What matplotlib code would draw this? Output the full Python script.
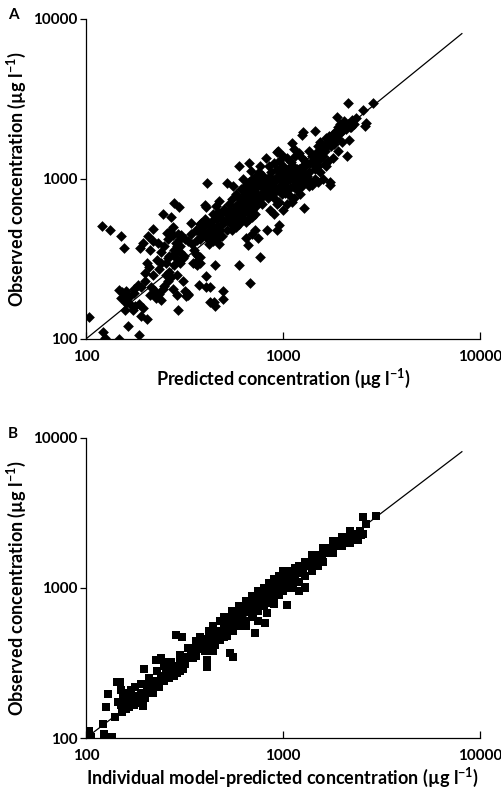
import matplotlib
matplotlib.use("Agg")
import matplotlib.pyplot as plt
import numpy as np

# === 字型設定 ===
plt.rcParams['font.family'] = ['Lato', 'DejaVu Sans']
plt.rcParams['font.weight'] = 'bold'
plt.rcParams['mathtext.fontset'] = 'custom'
plt.rcParams['mathtext.rm'] = 'Lato:bold'
plt.rcParams['mathtext.default'] = 'rm'

# === 資料 (A: population predicted vs observed) ===
pred_a = [104, 121, 133, 151, 156, 122, 125, 147, 163, 186, 203, 174, 157, 194, 147, 152, 157, 150, 157, 166,
          176, 183, 168, 178, 160, 185, 188, 195, 200, 190,
          206, 218, 245, 270, 281, 298, 341, 259, 286, 210, 236, 265, 215, 225, 235, 245, 228, 240, 222, 212,
          250, 260, 270, 255, 275, 290, 292, 300, 310, 285, 264, 280, 290, 300, 275, 262, 232, 240, 220, 212,
          230, 255, 280, 205, 248, 268, 278, 292, 305, 300, 315, 322, 310, 318, 330,
          330, 345, 355, 362, 370, 380, 365, 350, 376, 385, 395, 403, 410, 384, 407, 443, 386, 364, 380, 395,
          410, 420, 430, 440, 450, 460, 470, 480, 490, 500, 406, 406, 424, 454, 494, 494, 426, 376, 330, 289,
          379, 357, 452, 448, 420, 440, 465, 475, 490, 476, 455, 470, 480,
          518, 598, 675, 762, 817, 946, 520, 540, 560, 575, 590, 600, 620, 640, 660, 680, 700, 720, 740, 760,
          780, 520, 545, 560, 580, 600, 620, 640, 660, 680, 700, 720, 740, 760, 780, 800, 550, 575, 600, 625,
          650, 675, 700, 725, 600, 620, 650, 680, 710, 580, 610, 640, 670, 700, 730, 760, 790, 667, 750, 826,
          598, 680, 764, 700, 650, 720, 560, 630, 690,
          800, 820, 840, 860, 880, 900, 920, 940, 960, 980, 1000, 1020, 1040, 1060, 1080, 1100, 1120, 1140, 1160, 1180,
          1200, 1250, 1300, 1350, 1400, 1450, 1500, 850, 870, 900, 930, 960, 990, 1020, 1050, 1080, 1110, 1140, 1180, 1220,
          1279, 936, 952, 900, 860, 1000, 1050, 850, 900, 950, 1000, 1050, 1100, 1142, 1150, 1200, 1250, 1300, 1350, 1400,
          1253, 1300, 1200, 1100, 1000, 950, 1733, 1740, 1600, 1550, 1500, 1450, 1400, 1350, 1300,
          1452, 1500, 1550, 1600, 1650, 1700, 1750, 1800, 1850, 1871, 1900, 1950, 2000, 2050, 2104, 2146, 2172, 2187, 2228, 2250,
          2300, 2557, 2630, 2600, 2875, 1600, 1700, 1800, 1900, 2000, 1650, 1500, 1550, 1268, 1106, 928, 1635,
          530, 550, 570, 590, 610, 630, 650, 670, 690, 710, 730, 750, 770, 790, 810, 830, 850, 870, 890, 910,
          930, 950, 970, 990, 1010, 1030, 1060, 1090, 1120, 1150, 1180, 1210, 1240, 1270, 1320, 1370, 1420, 1480, 1530, 1580,
          1630, 1680, 1720, 1780, 1820, 1880, 1950, 2020, 2080, 2150, 2250, 2350, 460, 480, 500, 420, 440, 400, 380, 360,
          340, 320, 300, 280, 260, 240, 220, 200, 190, 175, 160, 430, 520, 540, 570, 610, 660, 730, 780, 840,
          900, 960, 1020, 1080, 1150, 1250, 1350]
obs_a = [138, 510, 480, 442, 370, 110, 101, 100, 120, 106, 133, 152, 152, 155, 202, 196, 190, 180, 175, 184,
         205, 218, 165, 160, 168, 165, 370, 395, 258, 140,
         437, 484, 604, 578, 710, 670, 530, 458, 396, 283, 273, 263, 210, 200, 190, 205, 180, 175, 195, 188,
         215, 230, 245, 250, 205, 250, 152, 300, 320, 320, 330, 360, 380, 420, 445, 420, 395, 350, 410, 360,
         310, 300, 290, 300, 380, 470, 500, 455, 445, 350, 330, 186, 230, 200, 190,
         410, 390, 360, 340, 330, 300, 290, 300, 469, 480, 500, 688, 939, 533, 671, 555, 480, 416, 420, 450,
         430, 470, 440, 490, 470, 510, 450, 480, 520, 540, 248, 210, 171, 161, 177, 200, 212, 218, 188, 188,
         327, 297, 290, 171, 390, 410, 420, 390, 440, 732, 680, 620, 580,
         949, 1205, 1253, 1211, 1352, 1503, 600, 640, 620, 680, 700, 760, 720, 800, 780, 850, 900, 880, 940, 980,
         1000, 550, 520, 560, 590, 620, 650, 620, 700, 660, 640, 700, 760, 720, 820, 860, 480, 500, 520, 560,
         540, 560, 580, 600, 680, 600, 720, 760, 820, 800, 870, 900, 950, 1000, 1050, 1100, 900, 387, 426, 480,
         290, 225, 327, 450, 430, 480, 900, 1000, 1120,
         940, 980, 1020, 960, 1000, 900, 860, 1050, 1000, 1100, 1000, 950, 1080, 1150, 1000, 1050, 900, 980, 1100, 1000,
         1050, 1000, 950, 980, 920, 1000, 950, 850, 800, 760, 700, 720, 800, 820, 860, 780, 720, 760, 850, 800,
         656, 480, 516, 600, 640, 640, 700, 1200, 1250, 1300, 1200, 1350, 1280, 1541, 1400, 1450, 1350, 1300, 1500, 1400,
         1884, 1200, 1150, 1180, 1400, 1100, 962, 920, 1000, 1100, 1200, 1150, 1250, 1100, 1080,
         2004, 1600, 1700, 1550, 1800, 1700, 1600, 1900, 2000, 2455, 2100, 2200, 2000, 2300, 1393, 2971, 1754, 2123, 2100, 2250,
         2200, 2698, 2228, 2150, 2971, 1400, 1300, 1350, 1500, 1700, 1200, 1300, 1450, 1977, 1670, 1478, 1234,
         700, 750, 650, 560, 720, 760, 650, 880, 700, 760, 820, 900, 760, 1050, 800, 900, 1000, 1100, 950, 1000,
         1150, 850, 900, 1000, 1100, 900, 1000, 1100, 1200, 1050, 1150, 950, 1100, 1200, 1050, 1250, 1300, 1450, 1350, 1600,
         1500, 1600, 1850, 1750, 1650, 1800, 1950, 2100, 2050, 2200, 2350, 2400, 560, 600, 650, 520, 600, 560, 520, 480,
         450, 420, 380, 340, 320, 300, 250, 230, 210, 195, 200, 500, 480, 580, 540, 580, 620, 680, 700, 760,
         820, 880, 920, 880, 900, 900, 900]

# === 資料 (B: individual model-predicted vs observed) ===
pred_b = [103, 104, 106, 122, 124, 135, 127, 130, 140, 143, 148, 150, 145, 150, 155, 160, 158, 152, 165, 170,
          175, 180, 185, 190, 195, 200, 205, 210, 215, 220, 178, 195, 190, 170, 182, 165, 160, 175, 200, 210,
          220, 225, 230, 240, 235, 250, 245, 228, 240, 250, 260, 255, 270, 280, 285, 306, 290, 300, 310, 320,
          330, 197, 265, 280, 300, 310,
          340, 350, 360, 370, 380, 390, 400, 410, 410, 420, 430, 443, 440, 450, 460, 470, 480, 490, 500, 510,
          520, 530, 540, 538, 560, 550, 560, 570, 580, 590, 600, 610, 620, 640, 660, 680, 700, 707, 721, 720,
          740, 760, 780, 800, 826, 811, 820, 840, 860, 880, 900, 920, 940, 960, 980, 1000, 1045, 1128, 1294, 1020,
          1040, 1060, 1080, 1100, 1120, 1150, 1180, 1219, 1250, 1300, 1350, 1400, 1426, 1450, 1500, 1550, 1600, 1633, 1650, 1700,
          1750, 1800, 1850, 1900, 1950, 2000, 2100, 2200, 2300, 2450, 2500, 2557, 2630, 2951,
          450, 480, 520, 560, 600, 650, 700, 750, 800, 850, 900, 950, 1000, 1100, 1200, 1300, 1400, 1500, 1600, 1800,
          2000, 2200, 2400, 1300, 1200, 900, 750, 650, 500, 400, 350, 300, 250, 220, 600, 700, 800, 900, 1000, 1100,
          1200, 1300, 1400, 1600, 1800, 2000, 2200, 500, 450, 400, 550, 650, 750, 850, 950, 1050, 1150,
          230, 260, 290, 320, 360, 380, 420, 460, 500, 540, 580, 620, 660, 700, 740, 780, 820, 860, 900, 940,
          980, 1020, 1060, 1100, 1150, 1200, 1260, 1320, 1380, 1450, 1520, 1580, 1650, 1720, 1800, 1880, 1960, 2050, 2150, 2250,
          2350, 2450, 2550, 900, 950, 850, 1000, 800, 750, 700, 650, 600, 550, 500, 480, 440, 420, 380, 360, 330,
          300, 270, 250, 230, 210, 190, 170, 160]
obs_b = [112, 100, 102, 124, 106, 102, 160, 197, 138, 236, 236, 210, 175, 165, 190, 200, 180, 150, 175, 185,
         182, 190, 192, 195, 200, 200, 210, 205, 215, 220, 219, 164, 180, 200, 170, 160, 155, 165, 185, 225,
         210, 235, 240, 250, 220, 260, 245, 330, 340, 320, 300, 280, 290, 300, 485, 468, 270, 320, 330, 340,
         345, 288, 250, 260, 280, 290,
         360, 380, 390, 400, 410, 420, 430, 330, 298, 420, 440, 383, 460, 470, 480, 500, 510, 520, 530, 540,
         550, 560, 550, 366, 348, 580, 600, 620, 610, 630, 640, 650, 680, 700, 720, 740, 760, 643, 498, 790,
         800, 820, 850, 870, 677, 581, 900, 920, 950, 980, 1000, 1020, 1050, 1080, 1100, 1120, 769, 1021, 1021, 1000,
         1050, 1100, 1150, 1200, 1180, 1250, 1300, 1318, 1350, 1400, 1450, 1500, 1619, 1550, 1600, 1650, 1700, 1795, 1750, 1800,
         1850, 1900, 1950, 2000, 2050, 2100, 2150, 2200, 2250, 2317, 2250, 2966, 2677, 3027,
         420, 450, 480, 520, 560, 600, 650, 700, 760, 800, 850, 900, 950, 1000, 1100, 1200, 1300, 1400, 1500, 1700,
         1900, 2000, 2100, 1000, 950, 780, 600, 560, 470, 380, 340, 300, 240, 200, 700, 800, 950, 1080, 1200, 1300,
         1400, 1500, 1650, 1850, 2050, 2200, 2400, 580, 520, 460, 620, 760, 880, 1000, 1150, 1250, 1350,
         225, 255, 295, 310, 350, 390, 440, 470, 510, 590, 570, 640, 690, 720, 760, 800, 860, 900, 940, 1000,
         1050, 1100, 1150, 1100, 1200, 1250, 1300, 1400, 1450, 1500, 1560, 1600, 1700, 1750, 1800, 1900, 1950, 2050, 2100, 2150,
         2300, 2400, 2300, 1150, 1200, 1080, 1300, 1000, 950, 880, 820, 760, 700, 640, 600, 560, 520, 470, 440, 400,
         360, 320, 300, 280, 250, 230, 210, 190]

panels = [
    ("A", pred_a, obs_a, 'D', 30, "Predicted concentration (µg l$^{-1}$)", [0.1713, 0.571, 0.7847, 0.405]),
    ("B", pred_b, obs_b, 's', 26, "Individual model-predicted concentration (µg l$^{-1}$)", [0.1713, 0.0658, 0.7847, 0.3798]),
]
ticks = [100, 1000, 10000]
line_end = 8100

fig = plt.figure(figsize=(5.02, 7.90), dpi=100)

for letter, px, py, mk, sz, xlab, rect in panels:
    ax = fig.add_axes(rect)
    ax.set_xscale('log')
    ax.set_yscale('log')
    ax.scatter(px, py, marker=mk, s=sz, c='black', linewidths=0, zorder=3)
    ax.plot([100, line_end], [100, line_end], color='black', lw=0.9, zorder=2)
    ax.set_xlim(100, 10000)
    ax.set_ylim(100, 10000)
    ax.xaxis.set_major_locator(matplotlib.ticker.FixedLocator(ticks))
    ax.yaxis.set_major_locator(matplotlib.ticker.FixedLocator(ticks))
    ax.xaxis.set_minor_locator(matplotlib.ticker.NullLocator())
    ax.yaxis.set_minor_locator(matplotlib.ticker.NullLocator())
    ax.set_xticklabels([str(t) for t in ticks])
    ax.set_yticklabels([str(t) for t in ticks])
    ax.tick_params(axis='x', direction='in', length=5, width=0.9, labelsize=11, pad=8)
    ax.tick_params(axis='y', direction='out', length=4, width=0.9, labelsize=11, pad=2)
    for s in ['top', 'right']:
        ax.spines[s].set_visible(False)
    for s in ['left', 'bottom']:
        ax.spines[s].set_linewidth(0.9)
    ax.set_xlabel(xlab, fontsize=13, fontweight='bold', labelpad=2)
    ax.set_ylabel("Observed concentration (µg l$^{-1}$)", fontsize=13, fontweight='bold', labelpad=4)
    fig.text(0.016, rect[1] + rect[3] + 0.005, letter, fontsize=11, fontweight='bold', va='center')

plt.savefig("out.png", dpi=100)
plt.close()
